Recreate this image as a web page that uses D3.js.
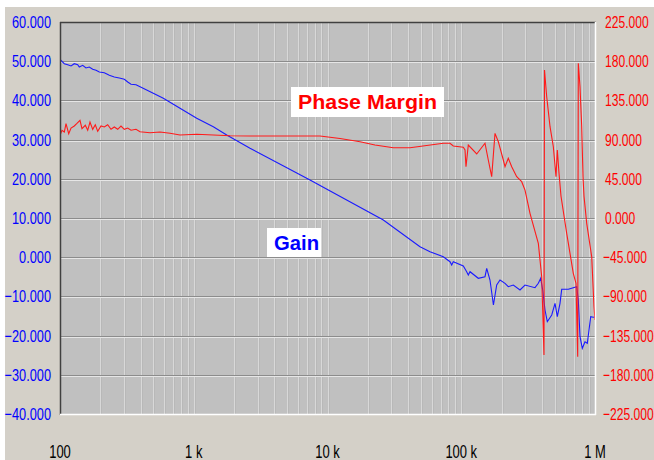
<!DOCTYPE html>
<html>
<head>
<meta charset="utf-8">
<script src="https://cdn.jsdelivr.net/npm/d3@7"></script>
<style>
  html, body { margin: 0; padding: 0; background: #ffffff; }
  svg { display: block; }
</style>
</head>
<body>
<svg id="chart" width="654" height="460"></svg>
<script>
// Loop gain (dB) vs frequency (Hz)
const gainFreq = [100, 103.5, 107.7, 114.2, 120.9, 127.9, 135.6, 139.4, 147.8, 156.4, 165.6, 175.6, 185.9, 196.7,
  214.4, 233.7, 254.7, 277.6, 302.6, 320.8, 339.6, 370.1, 444.8, 592.1, 789.3, 1052, 1400, 1764, 2634, 7398, 26140,
  49160, 58400, 73400, 82400, 84830, 87200, 103600, 109800, 112900, 116300, 134100, 150500, 155000, 164000, 174000,
  184100, 194900, 212400, 224700, 245100, 274900, 299700, 356000, 376900, 392700, 406400, 422800, 439900, 474800,
  502400, 522700, 547500, 563800, 631500, 729800, 750200, 772500, 803700, 841900, 876000, 902000, 928700, 971200, 1000000];
const gainDb = [50.48, 49.97, 49.36, 49.11, 48.78, 49.36, 49.11, 48.52, 48.95, 48.27, 48.52, 47.93, 47.68, 47.24,
  47.07, 46.40, 45.97, 45.71, 45.38, 44.69, 44.11, 44.01, 42.65, 40.54, 37.98, 35.43, 33.29, 31.17, 27.78, 19.69, 9.49,
  2.68, 1.40, 0.13, -1.15, -1.99, -1.15, -2.24, -3.70, -4.54, -3.70, -5.38, -4.97, -2.83, -5.82, -12.19,
  -7.09, -5.82, -6.66, -7.53, -7.09, -8.37, -7.09, -7.78, -6.66, -5.38, -8.37, -13.47, -16.45, -14.74,
  -11.76, -15.18, -11.76, -8.19, -8.19, -7.53, -10.92, -20.28, -23.24, -21.56, -21.96, -18.57, -15.18, -15.33, -15.25];

// Phase margin (degrees) vs frequency (Hz)
const phaseFreq = [100, 103.5, 107.7, 110.9, 116.2, 120.9, 127.9, 133.3, 141.1, 146.0, 154.6, 161.1, 167.6, 175.6,
  183.6, 191.4, 202.6, 214.4, 227.3, 240.6, 254.7, 270.0, 285.8, 302.6, 320.8, 339.6, 370.1, 396.5, 470.9, 559.4,
  664.5, 789.3, 1052, 1400, 1867, 2634, 8790, 12400, 17500, 22650, 31040, 41390, 73400, 82400, 87200, 103600,
  106700, 108500, 112900, 130500, 150500, 159300, 168900, 178800, 189300, 206300, 212400, 224700, 238400, 259800,
  283100, 299700, 326600, 376900, 399500, 415600, 419200, 435400, 461100, 488100, 511100, 522700, 538200, 557000,
  614300, 688200, 721000, 742500, 750200, 772500, 795500, 813500, 827600, 867000, 944800, 982900, 1000000];
const phaseDeg = [94.9, 100.7, 98.7, 108.3, 96.8, 103.3, 105.6, 108.3, 112.2, 102.5, 106.4, 100.7, 110.2, 101.8,
  107.1, 99.5, 105.6, 104.5, 107.1, 101.8, 104.5, 101.8, 105.6, 101.8, 103.3, 100.7, 101.8, 99.1, 97.9, 98.7,
  97.2, 95.3, 96.1, 95.3, 94.5, 94.1, 94.1, 91.3, 87.6, 83.8, 80.7, 80.7, 85.8, 85.8, 82.7, 81.2,
  78.1, 58.9, 83.8, 73.5, 85.8, 66.6, 47.4, 97.2, 87.6, 66.6, 58.9, 68.5, 58.9, 47.4,
  41.7, 32.1, 5.4, -29, -67.4, -157.3, 169.9, 139.2, 104.8, 81.8, 47.4, 78.1, 51.3, 25,
  -17.6, -63.5, -75, -159.2, 177.6, 150.7, 104.8, 47.4, 25, -6.1, -44.4, -101.8, -117.1];

const gainTicks = [60, 50, 40, 30, 20, 10, 0, -10, -20, -30, -40];
const phaseTicks = [225, 180, 135, 90, 45, 0, -45, -90, -135, -180, -225];
const freqTicks = [100, 1e3, 1e4, 1e5, 1e6];
const freqTickLabels = ["100", "1 k", "10 k", "100 k", "1 M"];

const svg = d3.select("#chart");
const W = 654, H = 460;
const plot = { left: 60, right: 595, top: 22, bottom: 414 };

// window frame
svg.append("rect").attr("x", 5).attr("y", 7).attr("width", W - 5).attr("height", H - 7).attr("fill", "#d4d0c8");

const x = d3.scaleLog().domain([100, 1e6]).range([plot.left, plot.right]);
const yG = d3.scaleLinear().domain([-40, 60]).range([plot.bottom, plot.top]);
const yP = d3.scaleLinear().domain([-225, 225]).range([plot.bottom, plot.top]);

// plot background
svg.append("rect").attr("x", plot.left).attr("y", plot.top)
  .attr("width", plot.right - plot.left).attr("height", plot.bottom - plot.top).attr("fill", "#c0c0c0");

// vertical grid at every log tick
const vGrid = svg.append("g");
x.ticks().forEach(t => {
  const px = Math.round(x(t)) + 0.5;
  if (px <= plot.left + 1 || px >= plot.right - 1) return;
  vGrid.append("line").attr("x1", px).attr("x2", px).attr("y1", plot.top).attr("y2", plot.bottom)
    .attr("stroke", "#d8d8d8").attr("stroke-width", 1);
  vGrid.append("line").attr("x1", px + 1).attr("x2", px + 1).attr("y1", plot.top).attr("y2", plot.bottom)
    .attr("stroke", "#b8b8b8").attr("stroke-width", 1);
});

// horizontal grid (etched)
const hGrid = svg.append("g");
gainTicks.forEach(t => {
  const py = Math.round(yG(t)) + 0.5;
  if (py <= plot.top + 1 || py >= plot.bottom - 1) return;
  hGrid.append("line").attr("x1", plot.left).attr("x2", plot.right).attr("y1", py).attr("y2", py)
    .attr("stroke", "#8c8c8c").attr("stroke-width", 1);
  hGrid.append("line").attr("x1", plot.left).attr("x2", plot.right).attr("y1", py + 1).attr("y2", py + 1)
    .attr("stroke", "#e6e6e6").attr("stroke-width", 1);
});

// data lines
svg.append("clipPath").attr("id", "plotClip").append("rect")
  .attr("x", plot.left).attr("y", plot.top).attr("width", plot.right - plot.left).attr("height", plot.bottom - plot.top);
const lines = svg.append("g").attr("clip-path", "url(#plotClip)");

const gainLine = d3.line().x((d, i) => x(gainFreq[i])).y(d => yG(d));
const phaseLine = d3.line().x((d, i) => x(phaseFreq[i])).y(d => yP(d));

lines.append("path").datum(gainDb).attr("d", gainLine)
  .attr("fill", "none").attr("stroke", "#1a1aff").attr("stroke-width", 1.1);
lines.append("path").datum(phaseDeg).attr("d", phaseLine)
  .attr("fill", "none").attr("stroke", "#ff1a1a").attr("stroke-width", 1.1);

// sunken frame
const fr = svg.append("g");
fr.append("line").attr("x1", plot.left + 0.5).attr("x2", plot.left + 0.5).attr("y1", plot.top).attr("y2", plot.bottom + 1)
  .attr("stroke", "#404040").attr("stroke-width", 1.5);
fr.append("line").attr("x1", plot.left).attr("x2", plot.right + 1).attr("y1", plot.top + 0.5).attr("y2", plot.top + 0.5)
  .attr("stroke", "#404040").attr("stroke-width", 1.5);
fr.append("line").attr("x1", plot.right + 0.5).attr("x2", plot.right + 0.5).attr("y1", plot.top).attr("y2", plot.bottom + 1)
  .attr("stroke", "#ffffff").attr("stroke-width", 1.5);
fr.append("line").attr("x1", plot.left).attr("x2", plot.right + 1).attr("y1", plot.bottom + 0.5).attr("y2", plot.bottom + 0.5)
  .attr("stroke", "#ffffff").attr("stroke-width", 1.5);

// axis labels (narrow face)
const fmt = d3.format(".3f");
const font = "'Liberation Sans', Arial, sans-serif";

const leftAxis = svg.append("g");
gainTicks.forEach(t => {
  leftAxis.append("text")
    .attr("transform", `translate(51,${yG(t) + 6}) scale(0.75,1)`)
    .attr("text-anchor", "end").attr("font-family", font).attr("font-size", 17)
    .attr("fill", "#0000ff").text(fmt(t));
});

const rightAxis = svg.append("g");
phaseTicks.forEach(t => {
  rightAxis.append("text")
    .attr("transform", `translate(${t < 0 ? 603 : 605},${yP(t) + 6}) scale(0.71,1)`)
    .attr("text-anchor", "start").attr("font-family", font).attr("font-size", 17)
    .attr("fill", "#ff0000").text(fmt(t));
});

const bottomAxis = svg.append("g");
freqTicks.forEach((t, i) => {
  bottomAxis.append("text")
    .attr("transform", `translate(${x(t)},458) scale(0.72,1)`)
    .attr("text-anchor", "middle").attr("font-family", font).attr("font-size", 18)
    .attr("fill", "#000000").text(freqTickLabels[i]);
});

// series captions
function caption(label, color, bx, by, bw, bh, tx, ty, tl) {
  const g = svg.append("g");
  g.append("rect").attr("x", bx).attr("y", by).attr("width", bw).attr("height", bh).attr("fill", "#ffffff");
  g.append("text").attr("x", tx).attr("y", ty).attr("font-family", font).attr("font-weight", "bold")
    .attr("font-size", 20).attr("fill", color)
    .attr("textLength", tl).attr("lengthAdjust", "spacingAndGlyphs").text(label);
}
caption("Phase Margin", "#ff0000", 291, 87, 153, 30, 298, 108.5, 139);
caption("Gain", "#0000ff", 267, 228, 54, 29, 274, 250, 45);
</script>
</body>
</html>
